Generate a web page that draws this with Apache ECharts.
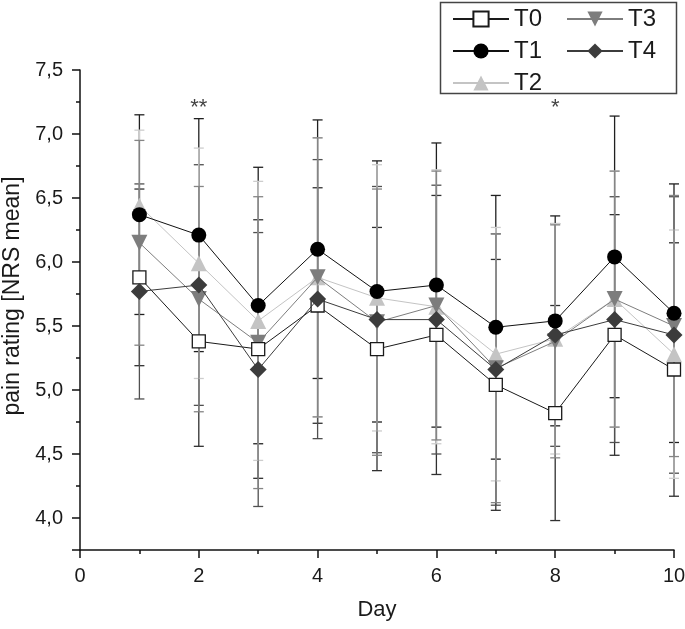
<!DOCTYPE html>
<html><head><meta charset="utf-8">
<script src="https://cdn.jsdelivr.net/npm/echarts@6/dist/echarts.min.js"></script>
<style>html,body{margin:0;padding:0;background:#fff}#c{width:685px;height:629px}</style>
</head><body><div id="c"></div>
<script>
// ---- data ----
const days = [1, 2, 3, 4, 5, 6, 7, 8, 9, 10];
const seriesNames = ['T0', 'T1', 'T2', 'T3', 'T4'];
const t0Mean = [5.88, 5.38, 5.32, 5.66, 5.32, 5.43, 5.04, 4.82, 5.43, 5.16];
const t0Sd   = [0.69, 0.82, 1.01, 0.92, 0.95, 1.09, 0.98, 0.84, 0.94, 0.99];
const t1Mean = [6.37, 6.21, 5.66, 6.10, 5.77, 5.82, 5.49, 5.54, 6.04, 5.60];
const t1Sd   = [0.78, 0.91, 1.08, 1.01, 1.02, 1.11, 1.03, 0.82, 1.10, 1.01];
const t2Mean = [6.44, 5.99, 5.54, 5.88, 5.72, 5.65, 5.28, 5.40, 5.71, 5.28];
const t2Sd   = [0.59, 0.90, 1.09, 1.09, 1.04, 1.07, 0.99, 0.90, 1.00, 0.97];
const t3Mean = [6.15, 5.71, 5.37, 5.88, 5.53, 5.66, 5.17, 5.38, 5.71, 5.50];
const t3Sd   = [0.80, 0.88, 1.14, 1.09, 1.04, 1.05, 1.05, 0.91, 1.00, 1.02];
const t4Mean = [5.77, 5.82, 5.16, 5.71, 5.55, 5.55, 5.16, 5.43, 5.55, 5.43];
const t4Sd   = [0.84, 0.94, 1.07, 1.09, 1.04, 1.05, 1.06, 0.87, 0.96, 1.08];
const sigDays = [2, 8];
const sigLabels = ['**', '*'];
const sigLevel = 7.2;

// ---- styles ----
const FONT = '"Liberation Sans", Arial, sans-serif';
const styles = {
  T0: {color: '#1a1a1a', symbol: 'rect', fill: '#ffffff', bar: '#303030', size: 13},
  T1: {color: '#111111', symbol: 'circle', fill: '#000000', bar: '#202020', size: 15},
  T2: {color: '#c4c4c4', symbol: 'triangle', fill: '#c4c4c4', bar: '#cdcdcd', size: 16},
  T3: {color: '#7d7d7d', symbol: 'path://M0,0 L10,0 L5,9 Z', fill: '#7d7d7d', bar: '#858585', size: 16},
  T4: {color: '#3c3c3c', symbol: 'diamond', fill: '#3c3c3c', bar: '#505050', size: 17}
};
const means = {T0: t0Mean, T1: t1Mean, T2: t2Mean, T3: t3Mean, T4: t4Mean};
const sds = {T0: t0Sd, T1: t1Sd, T2: t2Sd, T3: t3Sd, T4: t4Sd};

function errSeries(name, z) {
  const st = styles[name];
  const data = days.map((d, i) => [d, means[name][i] - sds[name][i], means[name][i] + sds[name][i]]);
  return {
    type: 'custom', name: name + ' SD', silent: true, z: z,
    data: data,
    encode: {x: 0, y: [1, 2]},
    renderItem: function (params, api) {
      const x = api.value(0), lo = api.value(1), hi = api.value(2);
      const pHi = api.coord([x, hi]), pLo = api.coord([x, lo]);
      const hw = 5;
      const s = {stroke: st.bar, lineWidth: 1.3};
      return {type: 'group', children: [
        {type: 'line', shape: {x1: pHi[0], y1: pHi[1], x2: pLo[0], y2: pLo[1]}, style: s},
        {type: 'line', shape: {x1: pHi[0] - hw, y1: pHi[1], x2: pHi[0] + hw, y2: pHi[1]}, style: s},
        {type: 'line', shape: {x1: pLo[0] - hw, y1: pLo[1], x2: pLo[0] + hw, y2: pLo[1]}, style: s}
      ]};
    }
  };
}

function lineSeries(name, z) {
  const st = styles[name];
  return {
    type: 'line', name: name, z: z,
    data: days.map((d, i) => [d, means[name][i]]),
    symbol: st.symbol, symbolSize: st.size, showAllSymbol: true,
    lineStyle: {color: st.color, width: 1},
    itemStyle: {color: st.fill, borderColor: st.color, borderWidth: name === 'T0' ? 1.3 : 0},
    emphasis: {disabled: true}
  };
}

const barOrder = ['T1', 'T0', 'T4', 'T2', 'T3'];
const drawOrder = ['T2', 'T3', 'T0', 'T4', 'T1'];
const series = [];
barOrder.forEach((n, i) => series.push(errSeries(n, 1 + i * 0.1)));
drawOrder.forEach((n, i) => series.push(lineSeries(n, 3 + i)));
series.push({
  type: 'scatter', silent: true, symbolSize: 0, z: 10,
  data: sigDays.map((d, i) => ({value: [d, sigLevel], name: sigLabels[i]})),
  label: {show: true, position: 'inside', formatter: '{b}', fontSize: 22, color: '#111', fontFamily: FONT}
});

const legendCommon = {
  orient: 'vertical', padding: 0, itemWidth: 56, itemHeight: 19, itemGap: 8,
  selectedMode: false,
  textStyle: {fontSize: 24, lineHeight: 22, color: '#1a1a1a', fontFamily: FONT}
};

const chart = echarts.init(document.getElementById('c'), null, {renderer: 'canvas'});
chart.setOption({
  animation: false,
  backgroundColor: '#ffffff',
  textStyle: {fontFamily: FONT},
  grid: {left: 80, right: 11, top: 70, bottom: 79, containLabel: false, outerBoundsMode: 'none'},
  xAxis: {
    type: 'value', min: 0, max: 10, interval: 2,
    name: 'Day', nameLocation: 'middle', nameGap: 49,
    nameTextStyle: {fontSize: 22, color: '#1a1a1a', fontFamily: FONT},
    axisLine: {show: true, onZero: false, lineStyle: {color: '#111', width: 1.5}},
    axisTick: {show: true, inside: false, length: 8, lineStyle: {color: '#111', width: 1.5}},
    minorTick: {show: true, splitNumber: 2, length: 4, lineStyle: {color: '#111', width: 1.5}},
    splitLine: {show: false},
    axisLabel: {fontSize: 20, color: '#1a1a1a', margin: 16, fontFamily: FONT}
  },
  yAxis: {
    type: 'value', min: 3.75, max: 7.5, splitNumber: 7,
    name: 'pain rating [NRS mean]', nameLocation: 'middle', nameGap: 53,
    nameTextStyle: {fontSize: 23, color: '#1a1a1a', fontFamily: FONT, padding: [0, 0, 0, 28]},
    axisLine: {show: true, onZero: false, lineStyle: {color: '#111', width: 1.5}},
    axisTick: {show: true, inside: false, length: 8, lineStyle: {color: '#111', width: 1.5}},
    minorTick: {show: true, splitNumber: 2, length: 4, lineStyle: {color: '#111', width: 1.5}},
    splitLine: {show: false},
    axisLabel: {
      fontSize: 20, color: '#1a1a1a', margin: 17, fontFamily: FONT,
      formatter: v => (Math.abs(v * 2 - Math.round(v * 2)) < 1e-6) ? v.toFixed(1).replace('.', ',') : ''
    }
  },
  legend: [
    Object.assign({data: ['T0', 'T1', 'T2'], left: 452, top: 7}, legendCommon),
    Object.assign({data: ['T3', 'T4'], left: 566, top: 7}, legendCommon)
  ],
  graphic: [{
    type: 'rect', left: 438, top: 0, z: 100, silent: true,
    shape: {width: 236, height: 91},
    style: {fill: 'none', stroke: '#444', lineWidth: 1.5}
  }],
  series: series
});
</script>
</body></html>
